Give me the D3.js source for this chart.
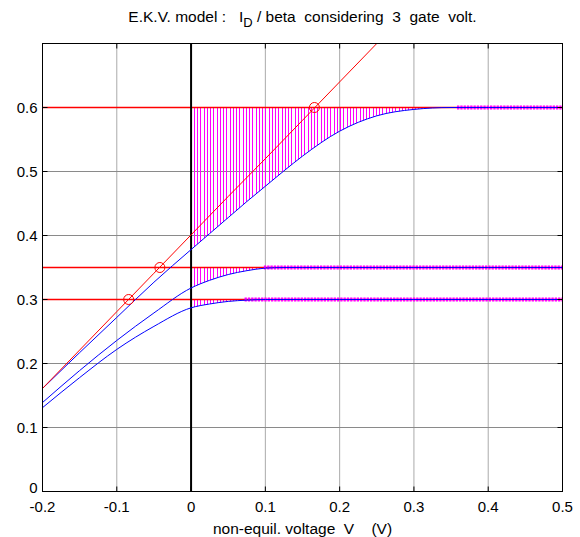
<!DOCTYPE html>
<html lang="en">
<head>
    <meta charset="UTF-8">
    <title>E.K.V. model</title>
    <script src="https://d3js.org/d3.v7.min.js"></script>
    <style>
        body { margin: 0; background: #fff; }
        svg { display: block; font-family: "Liberation Sans", Arial, sans-serif; }
        .tick-label { font-size: 15px; fill: #000; }
        .title { font-size: 15.5px; white-space: pre; }
        .xlabel { font-size: 15.5px; white-space: pre; }
    </style>
</head>
<body>
<div id="chart"></div>
<script>
    const width = 580, height = 537;

    // Axis ticks
    const xTicks = [-0.2, -0.1, 0, 0.1, 0.2, 0.3, 0.4, 0.5];
    const xTickLabels = ["-0.2", "-0.1", "0", "0.1", "0.2", "0.3", "0.4", "0.5"];
    const yTicks = [0, 0.1, 0.2, 0.3, 0.4, 0.5, 0.6];
    const yTickLabels = ["0", "0.1", "0.2", "0.3", "0.4", "0.5", "0.6"];

    // Red line (tangent) and its marked crossings
    const redX = [-0.2, -0.15, -0.1, -0.05, 0, 0.05, 0.1, 0.15, 0.2, 0.25];
    const redY = [0.161, 0.221, 0.281, 0.341, 0.401, 0.461, 0.520, 0.580, 0.640, 0.700];
    const circleX = [-0.084, -0.042, 0.166];
    const circleY = [0.30, 0.35, 0.60];

    // Saturation levels of the 3 gate voltages
    const levels = [0.6, 0.35, 0.3];
    const dotStart = [0.358, 0.098, 0.072];   // where curve reaches its level

    // Blue curves I_D/beta, one per gate voltage
    const curveX = [-0.2, -0.15, -0.1, -0.05, 0, 0.025, 0.05, 0.075, 0.1, 0.125, 0.15, 0.2, 0.25, 0.3, 0.35, 0.4, 0.5];
    const curveHigh = [0.161, 0.217, 0.272, 0.327, 0.378, 0.403, 0.428, 0.453, 0.477, 0.501, 0.524, 0.563, 0.587, 0.597, 0.600, 0.600, 0.600];
    const curveMid  = [0.139, 0.189, 0.236, 0.279, 0.318, 0.330, 0.339, 0.345, 0.349, 0.350, 0.350, 0.350, 0.350, 0.350, 0.350, 0.350, 0.350];
    const curveLow  = [0.131, 0.178, 0.222, 0.258, 0.287, 0.293, 0.297, 0.299, 0.300, 0.300, 0.300, 0.300, 0.300, 0.300, 0.300, 0.300, 0.300];
    const curves = [curveHigh, curveMid, curveLow];

    const mLeft = 42.5, mRight = 562.5, mTop = 43.5, mBottom = 491.5;
    const x = d3.scaleLinear().domain([-0.2, 0.5]).range([mLeft, mRight]);
    const y = d3.scaleLinear().domain([0, 0.7]).range([mBottom, mTop]);

    const svg = d3.select("#chart").append("svg")
        .attr("width", width).attr("height", height);
    const defs = svg.append("defs");

    defs.append("clipPath").attr("id", "plotclip")
        .append("rect").attr("x", mLeft).attr("y", mTop)
        .attr("width", mRight - mLeft).attr("height", mBottom - mTop);

    const line = d3.line().curve(d3.curveMonotoneX).x(p => x(p[0])).y(p => y(p[1]));

    // grid
    svg.append("g").selectAll("line").data(xTicks.filter(d => d !== 0)).enter()
        .append("line")
        .attr("x1", d => x(d)).attr("x2", d => x(d))
        .attr("y1", mTop).attr("y2", mBottom)
        .attr("stroke", "#ababab").attr("stroke-width", 1);
    svg.append("g").selectAll("line").data(yTicks).enter()
        .append("line")
        .attr("x1", mLeft).attr("x2", mRight)
        .attr("y1", d => y(d)).attr("y2", d => y(d))
        .attr("stroke", "#8a8a8a").attr("stroke-width", 1);

    const plot = svg.append("g").attr("clip-path", "url(#plotclip)");

    // hatched areas between curve and level, for V >= 0 (vertical lines clipped to the area)
    const hatchStep = 0.004375;
    const hatchX = d3.range(0, 0.5 + 1e-9, hatchStep);
    curves.forEach((c, i) => {
        const pts = curveX.map((v, k) => [v, c[k]]).filter(p => p[0] >= 0);
        const area = d3.area().curve(d3.curveMonotoneX)
            .x(p => x(p[0])).y0(y(levels[i])).y1(p => y(p[1]));
        defs.append("clipPath").attr("id", "hclip" + i)
            .append("path").datum(pts).attr("d", area);
        plot.append("g").attr("clip-path", "url(#hclip" + i + ")")
            .selectAll("line").data(hatchX).enter()
            .append("line")
            .attr("x1", d => x(d)).attr("x2", d => x(d))
            .attr("y1", y(levels[i]) - 1).attr("y2", y(0.1))
            .attr("stroke", "#ff00ff").attr("stroke-width", 1)
            .attr("shape-rendering", "crispEdges");
    });

    // red level lines
    plot.selectAll(".level").data(levels).enter()
        .append("line")
        .attr("x1", mLeft).attr("x2", mRight)
        .attr("y1", d => y(d)).attr("y2", d => y(d))
        .attr("stroke", "#ff0000").attr("stroke-width", 1.3);

    // saturated part: dotted magenta markers
    plot.selectAll(".dots").data(levels).enter()
        .append("line")
        .attr("x1", (d, i) => x(dotStart[i])).attr("x2", mRight)
        .attr("y1", d => y(d)).attr("y2", d => y(d))
        .attr("stroke", "#ff00ff").attr("stroke-width", 4)
        .attr("stroke-dasharray", "2.3,1");

    // x = 0 line
    plot.append("line")
        .attr("x1", x(0)).attr("x2", x(0))
        .attr("y1", mTop).attr("y2", mBottom)
        .attr("stroke", "#000").attr("stroke-width", 2);

    // blue curves
    curves.forEach(c => {
        plot.append("path")
            .datum(curveX.map((v, k) => [v, c[k]]))
            .attr("d", line)
            .attr("fill", "none").attr("stroke", "#0000ff").attr("stroke-width", 1);
    });

    // red tangent line
    plot.append("path")
        .datum(redX.map((v, k) => [v, redY[k]]))
        .attr("d", line)
        .attr("fill", "none").attr("stroke", "#ff0000").attr("stroke-width", 1);

    plot.selectAll(".mark").data(circleX).enter()
        .append("circle")
        .attr("cx", d => x(d)).attr("cy", (d, i) => y(circleY[i]))
        .attr("r", 5).attr("fill", "none")
        .attr("stroke", "#ff0000").attr("stroke-width", 1);

    // axes box with inward ticks
    svg.append("rect")
        .attr("x", mLeft).attr("y", mTop)
        .attr("width", mRight - mLeft).attr("height", mBottom - mTop)
        .attr("fill", "none").attr("stroke", "#000").attr("stroke-width", 1);

    const tk = 5;
    const ticks = svg.append("g").attr("stroke", "#000").attr("stroke-width", 1);
    xTicks.forEach(t => {
        ticks.append("line").attr("x1", x(t)).attr("x2", x(t)).attr("y1", mBottom).attr("y2", mBottom - tk);
        ticks.append("line").attr("x1", x(t)).attr("x2", x(t)).attr("y1", mTop).attr("y2", mTop + tk);
    });
    yTicks.forEach(t => {
        ticks.append("line").attr("x1", mLeft).attr("x2", mLeft + tk).attr("y1", y(t)).attr("y2", y(t));
        ticks.append("line").attr("x1", mRight).attr("x2", mRight - tk).attr("y1", y(t)).attr("y2", y(t));
    });

    // tick labels
    svg.append("g").selectAll("text").data(xTicks).enter()
        .append("text").attr("class", "tick-label")
        .attr("x", d => x(d)).attr("y", mBottom + 20)
        .attr("text-anchor", "middle")
        .text((d, i) => xTickLabels[i]);
    svg.append("g").selectAll("text").data(yTicks).enter()
        .append("text").attr("class", "tick-label")
        .attr("x", mLeft - 5).attr("y", d => y(d) + (d === 0 ? 1 : 5))
        .attr("text-anchor", "end")
        .text((d, i) => yTickLabels[i]);

    // title
    const title = svg.append("text").attr("class", "title")
        .attr("x", (mLeft + mRight) / 2).attr("y", 22)
        .attr("text-anchor", "middle");
    title.append("tspan").text("E.K.V. model :   I");
    title.append("tspan").attr("dy", 5).attr("font-size", "13px").text("D");
    title.append("tspan").attr("dy", -5).text(" / beta  considering  3  gate  volt.");

    svg.append("text").attr("class", "xlabel")
        .attr("x", (mLeft + mRight) / 2).attr("y", 534)
        .attr("text-anchor", "middle")
        .text("non-equil. voltage  V    (V)");
</script>
</body>
</html>
